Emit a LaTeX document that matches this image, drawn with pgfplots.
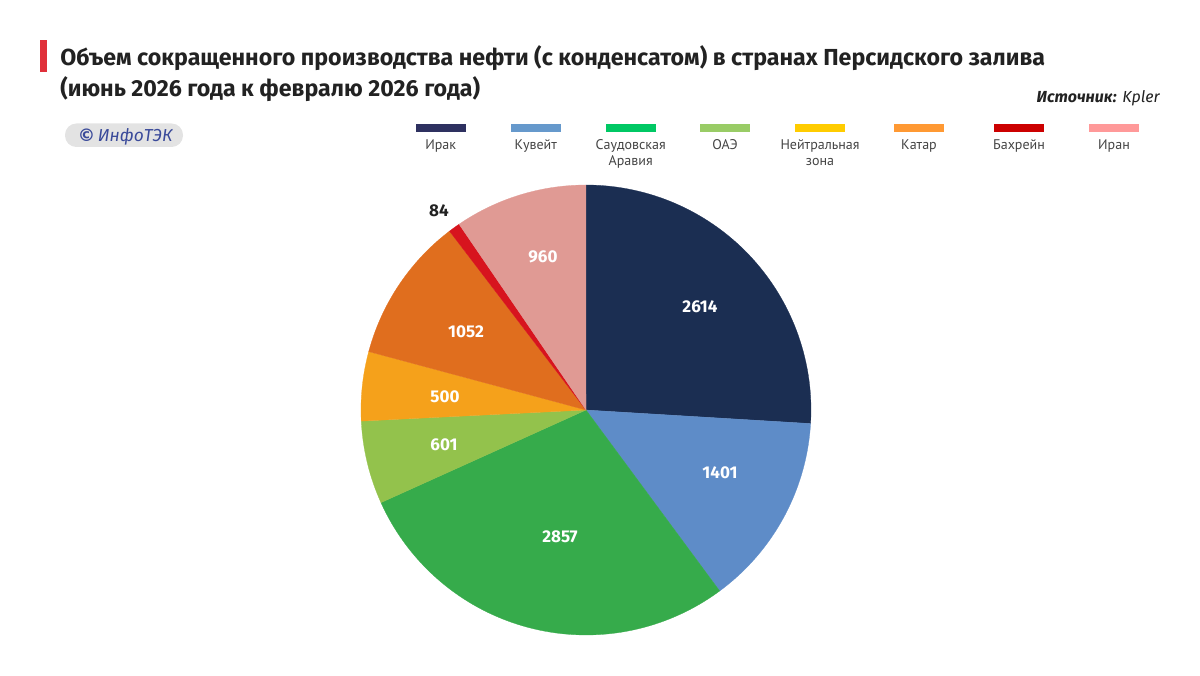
\documentclass[border=0pt]{standalone}
\usepackage{pgfplots}
\pgfplotsset{compat=1.18}
\usepackage{pgfplotstable}
\usepackage{fontspec}
\setmainfont{Fira Sans}
\newfontfamily\legfont{PT Sans}
\newfontfamily\symfont{DejaVu Sans}

\definecolor{pie0}{HTML}{1B2E52}
\definecolor{pie1}{HTML}{5E8CC8}
\definecolor{pie2}{HTML}{36AB4B}
\definecolor{pie3}{HTML}{93C24C}
\definecolor{pie4}{HTML}{F5A11B}
\definecolor{pie5}{HTML}{E06E1E}
\definecolor{pie6}{HTML}{D7141E}
\definecolor{pie7}{HTML}{E09A94}
\definecolor{leg0}{HTML}{2E3160}
\definecolor{leg1}{HTML}{6699CC}
\definecolor{leg2}{HTML}{00C864}
\definecolor{leg3}{HTML}{99CC66}
\definecolor{leg4}{HTML}{FFCC00}
\definecolor{leg5}{HTML}{FF9933}
\definecolor{leg6}{HTML}{CC0000}
\definecolor{leg7}{HTML}{FF9999}
\definecolor{titlered}{HTML}{E0303A}
\definecolor{txt}{HTML}{222222}
\definecolor{legtxt}{HTML}{444444}
\definecolor{logoblue}{HTML}{3A4A9A}
\definecolor{pill}{HTML}{E3E3E3}

\pgfplotstableread{
country value lx ly lc
Iraq 2614 700 307 0
Kuwait 1401 720 473 0
Saudi 2857 560 537 0
UAE 601 444 445 0
Neutral 500 445 397 0
Qatar 1052 466 332 0
Bahrain 84 439 211 1
Iran 960 543 257 0
}\piedata

\tikzset{
  leglab/.style={anchor=north, align=center, font=\legfont\fontsize{10.5}{12}\selectfont, text=legtxt, inner sep=0pt},
}

\begin{document}
\begin{tikzpicture}
\pgfmathsetmacro\total{0}
\pgfplotsforeachungrouped \i in {0,...,7}{%
  \pgfplotstablegetelem{\i}{value}\of\piedata
  \pgfmathsetmacro\total{\total+\pgfplotsretval}%
}
\begin{axis}[
  scale only axis, width=900pt, height=506.25pt,
  xmin=0, xmax=1200, ymin=0, ymax=675,
  axis lines=none, clip=false,
]
\path (axis cs:0,0) rectangle (axis cs:1200,675);
\gdef\aStart{90}
\pgfplotsforeachungrouped \i in {0,...,7}{%
  \pgfplotstablegetelem{\i}{value}\of\piedata
  \pgfmathsetmacro\aEnd{\aStart-\pgfplotsretval/\total*360}%
  \edef\cmd{\noexpand\addplot[fill=pie\i, draw=pie\i, line width=0.2pt, domain=\aEnd:\aStart, samples=90] ({586+225*cos(x)},{265+225*sin(x)}) -- (axis cs:586,265) -- cycle;}%
  \cmd
  \xdef\aStart{\aEnd}%
}
% value labels
\pgfplotsforeachungrouped \i in {0,...,7}{%
  \pgfplotstablegetelem{\i}{value}\of\piedata \let\myval\pgfplotsretval
  \pgfplotstablegetelem{\i}{lx}\of\piedata \let\mylx\pgfplotsretval
  \pgfplotstablegetelem{\i}{ly}\of\piedata \let\myly\pgfplotsretval
  \pgfplotstablegetelem{\i}{lc}\of\piedata
  \ifnum\pgfplotsretval=1 \def\lcol{txt}\else\def\lcol{white}\fi
  \edef\cmd{\noexpand\node[font=\noexpand\bfseries\noexpand\fontsize{12.8}{15}\noexpand\selectfont, text=\lcol] at (axis cs:\mylx,675-\myly) {\myval};}%
  \cmd
}
% title
\fill[titlered] (axis cs:40,675-40) rectangle (axis cs:47,675-72);
\node[anchor=base west, font=\bfseries\fontsize{17.4}{21}\selectfont, text=txt, inner sep=0pt] at (axis cs:60,675-66) {Объем сокращенного производства нефти (с конденсатом) в странах Персидского залива};
\node[anchor=base west, font=\bfseries\fontsize{17.4}{21}\selectfont, text=txt, inner sep=0pt] at (axis cs:60,675-97) {(июнь 2026 года к февралю 2026 года)};
\node[anchor=base east, font=\fontsize{12}{14}\selectfont\itshape, text=txt, inner sep=0pt] at (axis cs:1160,675-103) {\textbf{Источник:} Kpler};
% logo
\fill[pill, rounded corners=8.5pt] (axis cs:65,675-123.5) rectangle (axis cs:183,675-147);
\node[anchor=base west, font=\fontsize{13}{15}\selectfont\itshape, text=logoblue, inner sep=0pt] at (axis cs:77.5,675-141.3) {{\symfont\upshape\bfseries\fontsize{13}{15}\selectfont ©}\,ИнфоТЭК};
% legend
\fill[leg0] (axis cs:415.7,551) rectangle (axis cs:465.7,543.3);
\node[leglab] at (axis cs:440.7,536) {Ирак};
\fill[leg1] (axis cs:510.7,551) rectangle (axis cs:560.7,543.3);
\node[leglab] at (axis cs:535.7,536) {Кувейт};
\fill[leg2] (axis cs:605.7,551) rectangle (axis cs:655.7,543.3);
\node[leglab] at (axis cs:630.7,536) {Саудовская\\Аравия};
\fill[leg3] (axis cs:700,551) rectangle (axis cs:750,543.3);
\node[leglab] at (axis cs:725,536) {ОАЭ};
\fill[leg4] (axis cs:795,551) rectangle (axis cs:845,543.3);
\node[leglab] at (axis cs:820,536) {Нейтральная\\зона};
\fill[leg5] (axis cs:894,551) rectangle (axis cs:944,543.3);
\node[leglab] at (axis cs:919,536) {Катар};
\fill[leg6] (axis cs:994,551) rectangle (axis cs:1044,543.3);
\node[leglab] at (axis cs:1019,536) {Бахрейн};
\fill[leg7] (axis cs:1089,551) rectangle (axis cs:1139,543.3);
\node[leglab] at (axis cs:1114,536) {Иран};
\end{axis}
\end{tikzpicture}
\end{document}
